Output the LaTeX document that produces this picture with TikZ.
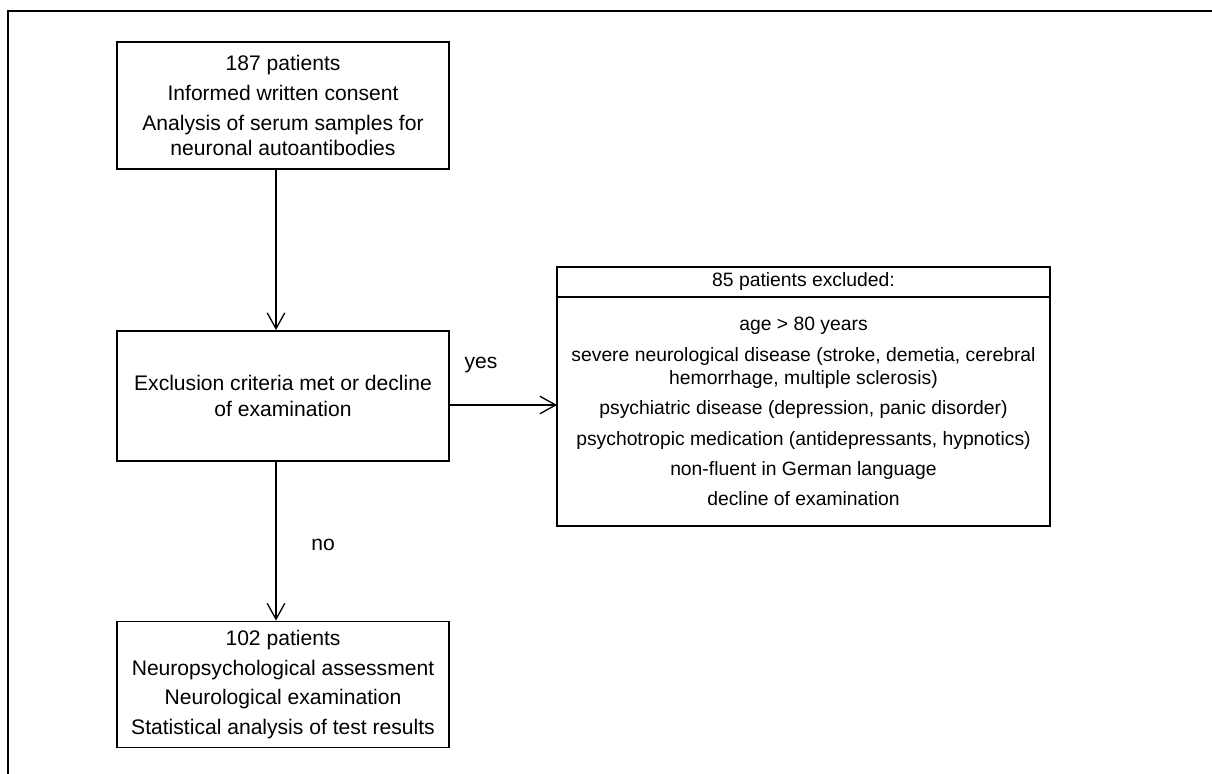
\documentclass[tikz,border=0pt]{standalone}
\usepackage{fontspec}
\setmainfont{Liberation Sans}
\usetikzlibrary{arrows.meta}

\begin{document}
\begin{tikzpicture}[
    x=1cm,y=1cm,font=\fontsize{12}{14.5}\selectfont,
    frame/.style={black,line width=1.1pt},
    stepbox/.style={draw=black,line width=1.1pt,align=center,inner sep=0pt,
      minimum width=6.64cm},
    listbox/.style={draw=black,line width=1.1pt,align=center,inner sep=0pt,
      outer sep=0pt,minimum width=9.86cm,font=\fontsize{11}{13.4}\selectfont},
    flow/.style={black,line width=.75pt,-{Straight Barb[length=9pt,width=10pt]}}
  ]
    \useasboundingbox (0,0) rectangle (24.24,-15.48);

    % Only the upper and left sides of the outer frame are visible.
    \draw[frame] (.16,-15.6)--(.16,-.22)--(24.4,-.22);

    % Main column of the study flow.
    \node[stepbox,minimum height=2.54cm] (consent) at (5.66,-2.11)
      {187 patients\\[2.5pt]Informed written consent\\[2.5pt]
       Analysis of serum samples for\\neuronal autoantibodies};
    \node[stepbox,minimum height=2.6cm] (criteria) at (5.66,-7.92)
      {Exclusion criteria met or decline\\of examination};
    \node[stepbox,minimum height=2.52cm] (assessment) at (5.66,-13.69)
      {102 patients\\[2.5pt]Neuropsychological assessment\\[2.5pt]
       Neurological examination\\[2.5pt]Statistical analysis of test results};

    % Excluded patients: heading cell on top of the list of reasons.
    \node[listbox,minimum height=.6cm] (excluded) at (16.07,-5.64)
      {85 patients excluded:};
    \node[listbox,minimum height=4.58cm,anchor=north] (reasons) at (excluded.south)
      {age > 80 years\\[3.8pt]
       severe neurological disease (stroke, demetia, cerebral\\
       hemorrhage, multiple sclerosis)\\[3.8pt]
       psychiatric disease (depression, panic disorder)\\[3.8pt]
       psychotropic medication (antidepressants, hypnotics)\\[3.8pt]
       non-fluent in German language\\[3.8pt]
       decline of examination};

    % Connectors.
    \draw[flow] ([xshift=-1.4mm]consent.south)--([xshift=-1.4mm]criteria.north);
    \draw[flow] ([xshift=-1.4mm]criteria.south)--([xshift=-1.4mm]assessment.north);
    \draw[flow] ([yshift=-1.8mm]criteria.east)--([yshift=-1.8mm]criteria.east -| reasons.west);

    \node (yes) at (9.62,-7.3) {yes};
    \node (no) at (6.46,-10.9) {no};
  \end{tikzpicture}
\end{document}
